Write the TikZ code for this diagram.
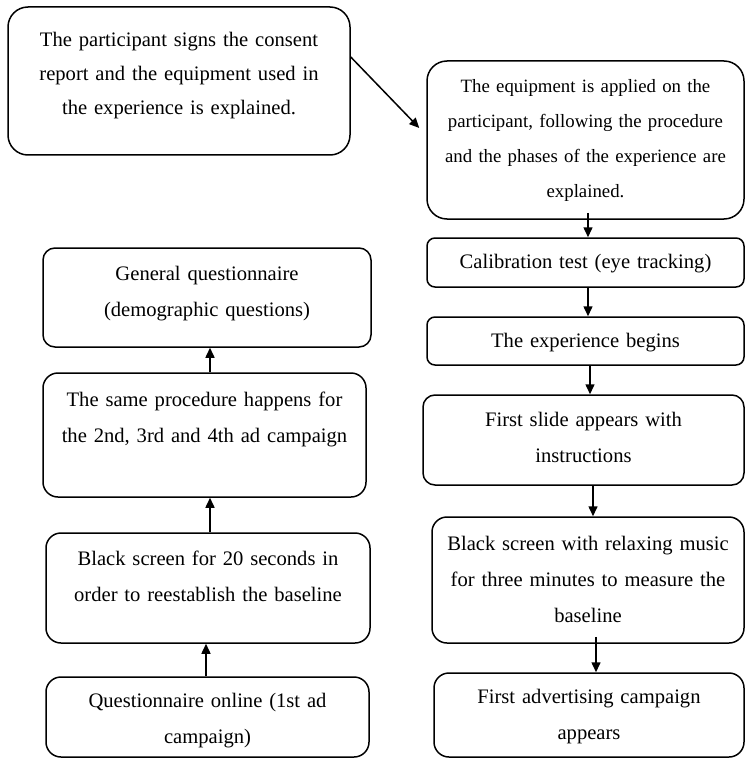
\documentclass[tikz,border=0pt]{standalone}
\usepackage{fontspec}
\setmainfont{Liberation Serif}
\usetikzlibrary{arrows.meta}
\begin{document}
\begin{tikzpicture}[x=1pt,y=-1pt,
  box/.style={draw, line width=1.5pt, rounded corners=#1, inner sep=0pt},
  box/.default=12pt,
  txt/.style={anchor=north, align=center, inner sep=0pt, text width=360pt,
              font=\fontsize{20.6}{36}\selectfont, text height=15pt},
  smalltxt/.style={txt, font=\fontsize{18.8}{35}\selectfont},
  toptxt/.style={txt, font=\fontsize{20.6}{34}\selectfont},
  arr/.style={-{Triangle[length=10pt,width=9pt]}, line width=1.5pt}]
\useasboundingbox (0,0) rectangle (746,762);
% right column
\node[box=20pt, minimum width=342pt, minimum height=148pt] (b1) at (179,81) {};
\node[box=20pt, minimum width=317pt, minimum height=158pt] (b2) at (585.5,140) {};
\node[box=8pt, minimum width=317pt, minimum height=49pt] (b3) at (585.5,262.5) {};
\node[box=8pt, minimum width=317pt, minimum height=48pt] (b4) at (585.5,341) {};
\node[box=12pt, minimum width=321pt, minimum height=90pt] (b5) at (583.5,440) {};
\node[box=15pt, minimum width=312pt, minimum height=126pt] (b6) at (588,580) {};
\node[box=15pt, minimum width=310pt, minimum height=84pt] (b7) at (589,715) {};
% left column
\node[box=12pt, minimum width=328pt, minimum height=99pt] (l1) at (207,297.5) {};
\node[box=15pt, minimum width=323pt, minimum height=124pt] (l2) at (204.5,435) {};
\node[box=15pt, minimum width=324pt, minimum height=110pt] (l3) at (208,588) {};
\node[box=15pt, minimum width=323pt, minimum height=80pt] (l4) at (207.5,717) {};
% texts
\node[toptxt] (t1) at ([yshift=-25pt]b1.north) {The participant signs the consent\\report and the equipment used in\\the experience is explained.};
\node[smalltxt] (t2) at ([yshift=-17pt]b2.north) {The equipment is applied on the\\participant, following the procedure\\and the phases of the experience are\\explained.};
\node[txt] (t3) at ([yshift=-16pt]b3.north) {Calibration test (eye tracking)};
\node[txt] (t4) at ([yshift=-16pt]b4.north) {The experience begins};
\node[txt] (t5) at ([yshift=-17pt]b5.north) {First slide appears with\\instructions};
\node[txt] (t6) at ([yshift=-19pt]b6.north) {Black screen with relaxing music\\for three minutes to measure the\\baseline};
\node[txt] (t7) at ([yshift=-16pt]b7.north) {First advertising campaign\\appears};
\node[txt] (s1) at ([yshift=-18pt]l1.north) {General questionnaire\\(demographic questions)};
\node[txt] (s2) at ([yshift=-19pt]l2.north) {The same procedure happens for\\the 2nd, 3rd and 4th ad campaign};
\node[txt] (s3) at ([yshift=-18pt]l3.north) {Black screen for 20 seconds in\\order to reestablish the baseline};
\node[txt] (s4) at ([yshift=-16pt]l4.north) {Questionnaire online (1st ad\\campaign)};
% connectors
\draw[arr] ([yshift=24pt]b1.east) -- ([xshift=-7pt,yshift=12pt]b2.west);
\draw[arr] ([xshift=2.5pt,yshift=7pt]b2.south) -- ([xshift=2.5pt]b3.north);
\draw[arr] ([xshift=2.5pt]b3.south) -- ([xshift=2.5pt]b4.north);
\draw[arr] ([xshift=4.5pt]b4.south) -- ([xshift=6.5pt]b5.north);
\draw[arr] ([xshift=9.5pt]b5.south) -- ([xshift=5pt]b6.north);
\draw[arr] ([xshift=8pt,yshift=7pt]b6.south) -- ([xshift=7pt]b7.north);
\draw[arr] ([xshift=5.5pt]l2.north) -- ([xshift=3pt]l1.south);
\draw[arr] ([xshift=2pt]l3.north) -- ([xshift=5.5pt]l2.south);
\draw[arr] ([xshift=-1.5pt]l4.north) -- ([xshift=-2pt]l3.south);
\end{tikzpicture}
\end{document}
